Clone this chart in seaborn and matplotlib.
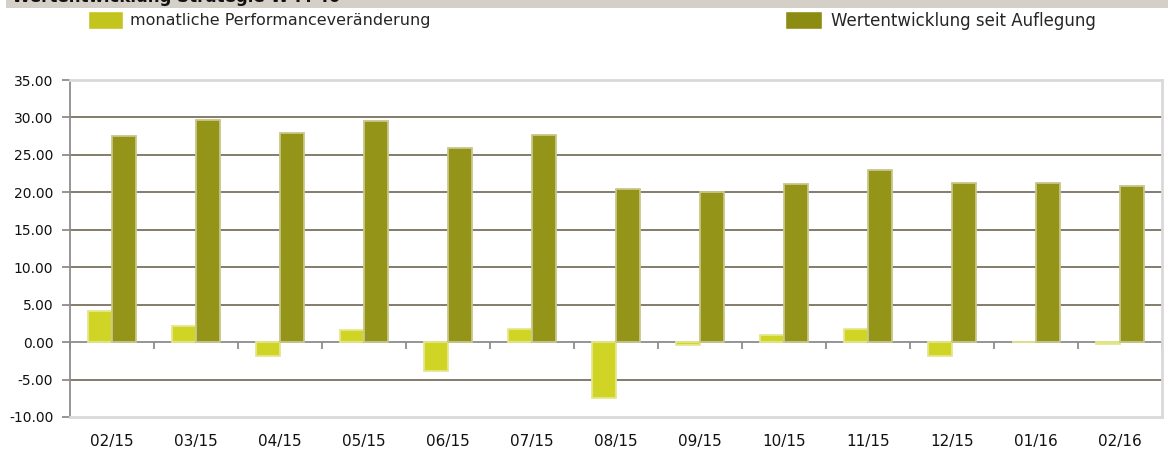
import numpy as np
import pandas as pd
import matplotlib
matplotlib.use("Agg")
import matplotlib.pyplot as plt
from matplotlib.patches import Patch
import seaborn as sns

months = ["02/15", "03/15", "04/15", "05/15", "06/15", "07/15", "08/15",
          "09/15", "10/15", "11/15", "12/15", "01/16", "02/16"]
monthly_change = [4.2, 2.1, -1.9, 1.6, -3.8, 1.8, -7.4, -0.4, 0.9, 1.8, -1.9, 0.0, -0.3]
since_launch = [27.5, 29.7, 27.9, 29.5, 25.9, 27.7, 20.4, 20.1, 21.1, 23.0, 21.2, 21.2, 20.9]

label_monthly = "monatliche Performanceveränderung"
label_total = "Wertentwicklung seit Auflegung"
title = "Wertentwicklung Strategie W-M 40"

c_monthly = "#d0d424"
c_total = "#949419"

df = pd.DataFrame({
    "Monat": months * 2,
    "Wert": monthly_change + since_launch,
    "Reihe": [label_monthly] * len(months) + [label_total] * len(months),
})

sns.set_style("white")
plt.rcParams["font.family"] = ["DejaVu Sans"]

fig = plt.figure(figsize=(11.68, 4.53), dpi=100)
W, H = 1168, 453
ax = fig.add_axes([70 / W, 1 - 417 / H, 1092 / W, 337 / H])

sns.barplot(data=df, x="Monat", y="Wert", hue="Reihe", order=months,
            palette=[c_monthly, c_total], width=0.57, gap=0, saturation=1,
            errorbar=None, legend=False, ax=ax)

# leichter 3D-Rand an den Balken
for cont, ec in zip(ax.containers, ["#e4e78c", "#c9c68a"]):
    for p in cont:
        p.set_edgecolor(ec)
        p.set_linewidth(1.3)

ax.set_xlim(-0.5, len(months) - 0.5)
ax.set_ylim(-10, 35)
ax.set_yticks(np.arange(-10, 36, 5))
ax.set_yticklabels([f"{v:.2f}" for v in np.arange(-10, 36, 5)], fontsize=10)
ax.set_xlabel("")
ax.set_ylabel("")

# Gitterlinien
for v in np.arange(-5, 31, 5):
    if v != 0:
        ax.axhline(v, color="#857b6b", lw=1.4, zorder=0)
ax.set_axisbelow(True)

for side in ["top", "right", "bottom"]:
    ax.spines[side].set_color("#d9d9d9")
    ax.spines[side].set_linewidth(2)
ax.spines["left"].set_color("#8c8c8c")
ax.spines["left"].set_linewidth(1.3)

ax.tick_params(axis="y", left=True, length=6, width=1.3, color="#8c8c8c",
               pad=6, labelcolor="#111111")
ax.tick_params(axis="x", bottom=False, length=0, pad=12, labelsize=11,
               labelcolor="#111111")

# Nulllinie mit Trennstrichen zwischen den Monaten
zero = ax.secondary_xaxis(10 / 45)
zero.set_xticks(np.arange(-0.5, len(months), 1.0))
zero.set_xticklabels([])
zero.tick_params(length=5, width=1.3, color="#8c8c8c", direction="out")
zero.spines["bottom"].set_color("#8c8c8c")
zero.spines["bottom"].set_linewidth(1.3)

# Legenden
fig.legend(handles=[Patch(facecolor="#c4c41f", label=label_monthly)],
           loc="upper left", bbox_to_anchor=(88 / W, 1 - 11 / H),
           frameon=False, fontsize=11.5, borderpad=0, borderaxespad=0,
           handlelength=2.2, handleheight=1.35, handletextpad=0.4)
fig.legend(handles=[Patch(facecolor="#8c8c12", label=label_total)],
           loc="upper left", bbox_to_anchor=(785 / W, 1 - 11 / H),
           frameon=False, fontsize=12, borderpad=0, borderaxespad=0,
           handlelength=2.2, handleheight=1.3, handletextpad=0.55)

# abgeschnittener Titelbalken oben
band = fig.add_axes([6 / W, 1 - 7.5 / H, 1 - 6 / W, 7.5 / H])
band.set_facecolor("#d4d0c8")
band.set_xticks([])
band.set_yticks([])
for s in band.spines.values():
    s.set_visible(False)
fig.text(12 / W, 1 - 2 / H, title, fontsize=12, fontweight="bold",
         color="#111111", va="baseline", ha="left")

fig.savefig("out.png", dpi=100)
